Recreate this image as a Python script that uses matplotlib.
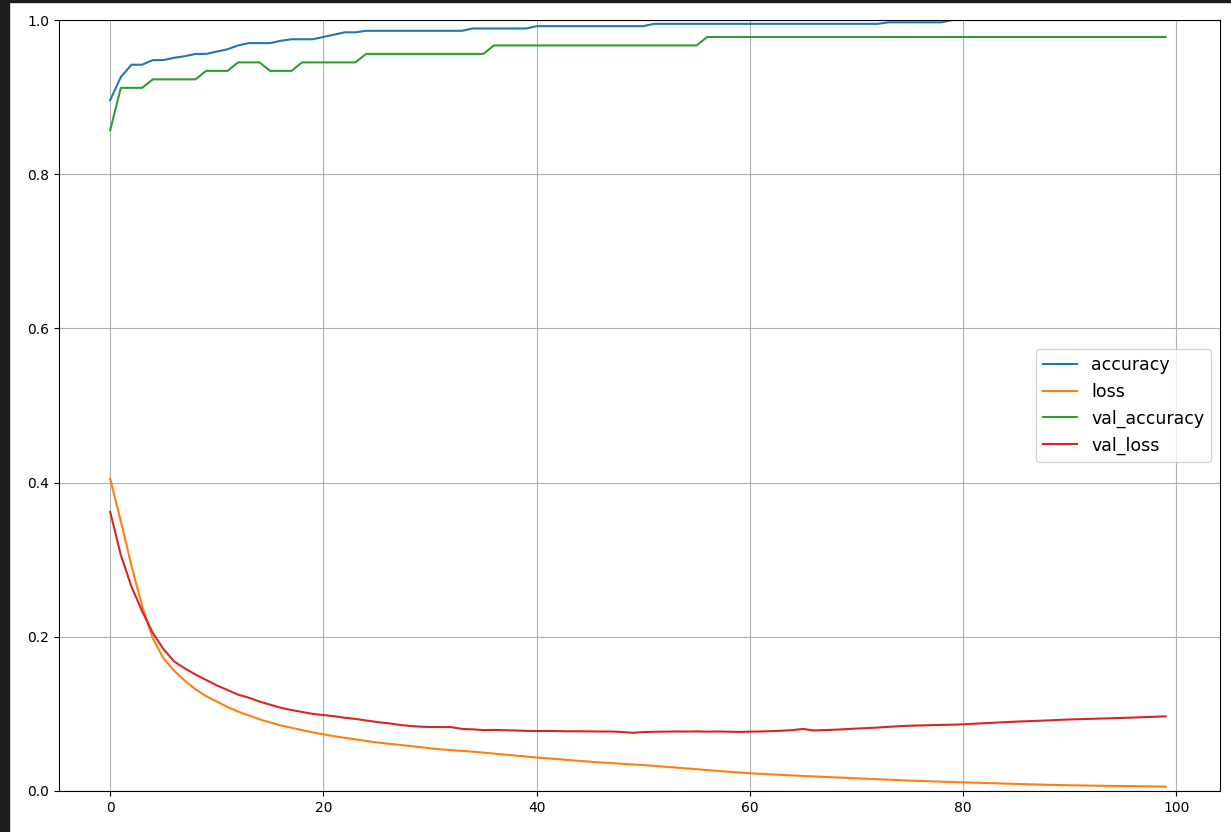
import matplotlib
matplotlib.use("Agg")
import matplotlib.pyplot as plt
from matplotlib.patches import Rectangle

# training history, one value per epoch
accuracy = [0.896, 0.926, 0.942, 0.942, 0.948, 0.948, 0.951, 0.953, 0.956, 0.956,
            0.959, 0.962, 0.967, 0.970, 0.970, 0.970, 0.973, 0.975, 0.975, 0.975,
            0.978, 0.981, 0.984, 0.984, 0.986, 0.986, 0.986, 0.986, 0.986, 0.986,
            0.986, 0.986, 0.986, 0.986, 0.989, 0.989, 0.989, 0.989, 0.989, 0.989,
            0.992, 0.992, 0.992, 0.992, 0.992, 0.992, 0.992, 0.992, 0.992, 0.992,
            0.992, 0.995, 0.995, 0.995, 0.995, 0.995, 0.995, 0.995, 0.995, 0.995,
            0.995, 0.995, 0.995, 0.995, 0.995, 0.995, 0.995, 0.995, 0.995, 0.995,
            0.995, 0.995, 0.995, 0.997, 0.997, 0.997, 0.997, 0.997, 0.997, 1.0,
            1.0, 1.0, 1.0, 1.0, 1.0, 1.0, 1.0, 1.0, 1.0, 1.0,
            1.0, 1.0, 1.0, 1.0, 1.0, 1.0, 1.0, 1.0, 1.0, 1.0]

loss = [0.405, 0.350, 0.292, 0.240, 0.198, 0.172, 0.156, 0.143, 0.132, 0.123,
        0.116, 0.109, 0.103, 0.098, 0.093, 0.089, 0.085, 0.082, 0.079, 0.076,
        0.0735, 0.071, 0.069, 0.067, 0.065, 0.063, 0.0615, 0.060, 0.0585, 0.057,
        0.0555, 0.054, 0.053, 0.052, 0.051, 0.0498, 0.0485, 0.0472, 0.046, 0.0447,
        0.0435, 0.0424, 0.0413, 0.0402, 0.0391, 0.038, 0.0371, 0.0362, 0.0353, 0.0345,
        0.0337, 0.0326, 0.0315, 0.0305, 0.0294, 0.0283, 0.0272, 0.0261, 0.0250, 0.0240,
        0.0230, 0.0223, 0.0216, 0.0209, 0.0202, 0.0195, 0.0189, 0.0183, 0.0177, 0.0171,
        0.0165, 0.0159, 0.0153, 0.0147, 0.0141, 0.0135, 0.0131, 0.0126, 0.0121, 0.0117,
        0.0113, 0.0108, 0.0104, 0.0100, 0.0096, 0.0092, 0.0088, 0.0084, 0.0080, 0.0077,
        0.0074, 0.0072, 0.0070, 0.0068, 0.0066, 0.0065, 0.0063, 0.0061, 0.0059, 0.0057]

val_accuracy = [0.857, 0.912, 0.912, 0.912, 0.923, 0.923, 0.923, 0.923, 0.923, 0.934,
                0.934, 0.934, 0.945, 0.945, 0.945, 0.934, 0.934, 0.934, 0.945, 0.945,
                0.945, 0.945, 0.945, 0.945, 0.956, 0.956, 0.956, 0.956, 0.956, 0.956,
                0.956, 0.956, 0.956, 0.956, 0.956, 0.956, 0.967, 0.967, 0.967, 0.967,
                0.967, 0.967, 0.967, 0.967, 0.967, 0.967, 0.967, 0.967, 0.967, 0.967,
                0.967, 0.967, 0.967, 0.967, 0.967, 0.967, 0.978, 0.978, 0.978, 0.978,
                0.978, 0.978, 0.978, 0.978, 0.978, 0.978, 0.978, 0.978, 0.978, 0.978,
                0.978, 0.978, 0.978, 0.978, 0.978, 0.978, 0.978, 0.978, 0.978, 0.978,
                0.978, 0.978, 0.978, 0.978, 0.978, 0.978, 0.978, 0.978, 0.978, 0.978,
                0.978, 0.978, 0.978, 0.978, 0.978, 0.978, 0.978, 0.978, 0.978, 0.978]

val_loss = [0.362, 0.306, 0.265, 0.233, 0.205, 0.184, 0.168, 0.159, 0.151, 0.144,
            0.137, 0.131, 0.125, 0.121, 0.116, 0.112, 0.108, 0.105, 0.1025, 0.100,
            0.0985, 0.097, 0.095, 0.0935, 0.0915, 0.0895, 0.088, 0.086, 0.0845, 0.0835,
            0.083, 0.083, 0.0828, 0.0805, 0.080, 0.079, 0.0792, 0.0788, 0.0785, 0.078,
            0.0778, 0.0779, 0.0777, 0.0774, 0.0775, 0.0773, 0.0771, 0.0772, 0.0765, 0.0755,
            0.0764, 0.0768, 0.0770, 0.0772, 0.0771, 0.0773, 0.0770, 0.0772, 0.0769, 0.0766,
            0.0770, 0.0772, 0.0776, 0.0782, 0.0790, 0.0805, 0.0785, 0.0790, 0.0795, 0.0802,
            0.0810, 0.0816, 0.0823, 0.0832, 0.0840, 0.0847, 0.0850, 0.0854, 0.0857, 0.0860,
            0.0865, 0.0872, 0.0879, 0.0886, 0.0893, 0.0900, 0.0905, 0.0910, 0.0916, 0.0922,
            0.0928, 0.0932, 0.0936, 0.0940, 0.0944, 0.0948, 0.0953, 0.0958, 0.0963, 0.0968]

series = [("accuracy", accuracy), ("loss", loss),
          ("val_accuracy", val_accuracy), ("val_loss", val_loss)]

fig = plt.figure(figsize=(12.31, 8.32), dpi=100)
ax = fig.add_axes([59 / 1231, 1 - 791 / 832, (1220 - 59) / 1231, (791 - 20) / 832])

for name, values in series:
    ax.plot(range(len(values)), values, label=name)

ax.set_xlim(-4.8, 104.1)
ax.set_ylim(0, 1)
ax.grid(True)
ax.legend(loc="center right", fontsize=12.5)

# dark edge of the notebook screenshot
fig.patches.append(Rectangle((0, 0), 9 / 1231, 1, transform=fig.transFigure,
                             color="#1e1e1e", zorder=-1))
fig.patches.append(Rectangle((0, 1 - 2 / 832), 1, 2 / 832, transform=fig.transFigure,
                             color="#1e1e1e", zorder=-1))

fig.savefig("out.png", dpi=100)
